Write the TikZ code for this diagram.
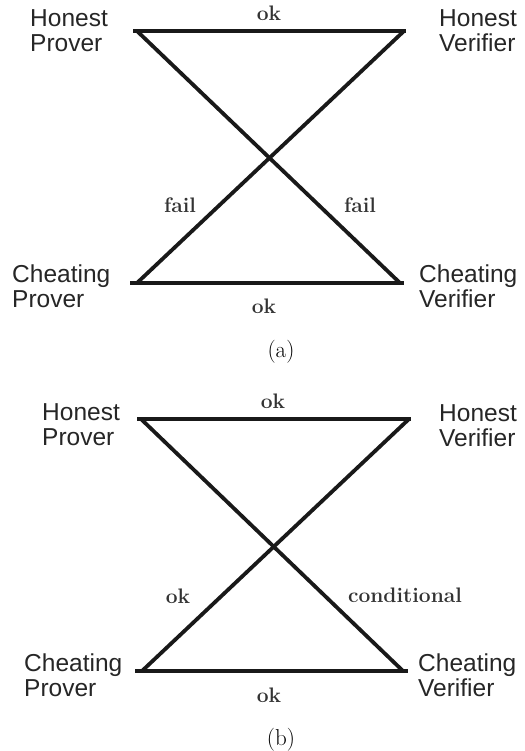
\documentclass[tikz,border=0pt]{standalone}
\usepackage{fontspec}
\newfontfamily\partyfont{Liberation Sans}
\begin{document}
\begin{tikzpicture}[x=1pt,y=-1pt,
  party/.style={font=\partyfont\fontsize{24.5}{25}\selectfont, align=left, anchor=base west, inner sep=0pt, text=black!85},
  edgelab/.style={font=\bfseries\fontsize{21}{23}\selectfont, anchor=base, inner sep=0pt, text=black!80},
  caplab/.style={font=\fontsize{23}{25}\selectfont, anchor=base, inner sep=0pt},
  edge/.style={line width=3.8pt, line cap=butt, black!90}]
\path[use as bounding box] (0,0) rectangle (524,751);

% ---------- (a) ----------
\node[party] (hpa) at (30,52) {Honest\\Prover};
\node[party] (hva) at (439,52) {Honest\\Verifier};
\node[party] (cpa) at (12,307) {Cheating\\Prover};
\node[party] (cva) at (419,307) {Cheating\\Verifier};

\coordinate (atl) at (133,31);
\coordinate (atr) at (406,31);
\coordinate (abl) at (130,283);
\coordinate (abr) at (404,283);
\coordinate (atld) at (137,31);
\coordinate (atrd) at (404,31);
\coordinate (abld) at (137,283);
\coordinate (abrd) at (400,283);

\draw[edge] (atl) -- (atr);
\draw[edge] (abl) -- (abr);
\draw[edge] (atld) -- (abrd);
\draw[edge] (atrd) -- (abld);

\node[edgelab] (oka1) at (269,21) {ok};
\node[edgelab] (oka2) at (264,313) {ok};
\node[edgelab] (faila1) at (180,213) {fail};
\node[edgelab] (faila2) at (360,213) {fail};
\node[caplab] (capa) at (281,357) {(a)};

% ---------- (b) ----------
\node[party] (hpb) at (42,445) {Honest\\Prover};
\node[party] (hvb) at (439,446) {Honest\\Verifier};
\node[party] (cpb) at (24,696) {Cheating\\Prover};
\node[party] (cvb) at (418,696) {Cheating\\Verifier};

\coordinate (btl) at (137,419);
\coordinate (btr) at (411,419);
\coordinate (bbl) at (135,671);
\coordinate (bbr) at (408,671);
\coordinate (btld) at (141,419);
\coordinate (btrd) at (409,419);
\coordinate (bbld) at (142,671);
\coordinate (bbrd) at (403,671);

\draw[edge] (btl) -- (btr);
\draw[edge] (bbl) -- (bbr);
\draw[edge] (btld) -- (bbrd);
\draw[edge] (btrd) -- (bbld);

\node[edgelab] (okb1) at (273,408) {ok};
\node[edgelab] (okb2) at (269,702) {ok};
\node[edgelab] (okb3) at (178,603) {ok};
\node[edgelab] (condb) at (405,602) {conditional};
\node[caplab] (capb) at (281,745) {(b)};
\end{tikzpicture}
\end{document}
